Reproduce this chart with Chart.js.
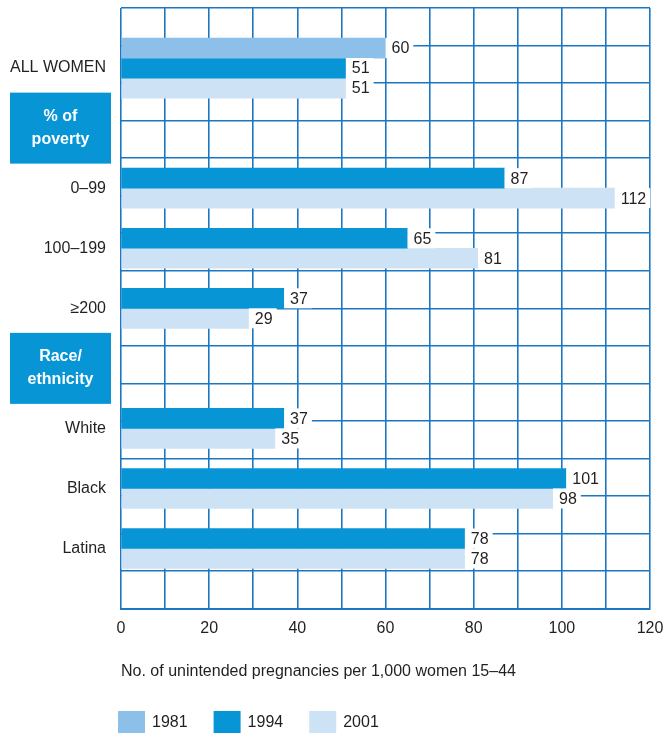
<!DOCTYPE html>
<html>
<head>
<meta charset="utf-8">
<script src="https://cdn.jsdelivr.net/npm/chart.js@4.4.1/dist/chart.umd.min.js"></script>
<style>
  html, body { margin: 0; padding: 0; background: #ffffff; }
  #wrap { width: 665px; height: 735px; position: relative; }
</style>
</head>
<body>
<div id="wrap"><canvas id="c" width="665" height="735"></canvas></div>
<script>
// ---- data ----
const categories = ['', 'ALL WOMEN', '% of poverty', '0–99', '100–199', '≥200', 'Race/ethnicity', 'White', 'Black', 'Latina', ''];
const sectionHeaders = { '% of poverty': ['% of', 'poverty'], 'Race/ethnicity': ['Race/', 'ethnicity'] };
const years = ['1981', '1994', '2001'];
const values1981 = [null, 60, null, null, null, null, null, null, null, null, null];
const values1994 = [null, 51, null, 87, 65, 37, null, 37, 101, 78, null];
const values2001 = [null, 51, null, 112, 81, 29, null, 35, 98, 78, null];
const xTickLabels = [0, 20, 40, 60, 80, 100, 120];
const axisTitle = 'No. of unintended pregnancies per 1,000 women 15–44';

// ---- styles ----
const colors = ['#8DC0E9', '#0795D6', '#CDE2F5'];
const gridColor = '#1C77C3';
const textColor = '#231F20';
const FONT = "'Liberation Sans', Arial, sans-serif";
const FS = 16;

const valueLabels = {
  id: 'valueLabels',
  afterDatasetsDraw(chart) {
    const ctx = chart.ctx;
    ctx.save();
    ctx.font = FS + 'px ' + FONT;
    ctx.textBaseline = 'middle';
    ctx.textAlign = 'left';
    chart.data.datasets.forEach((ds, di) => {
      const meta = chart.getDatasetMeta(di);
      meta.data.forEach((bar, i) => {
        const v = ds.data[i];
        if (v === null || v === undefined) return;
        const t = String(v);
        const w = ctx.measureText(t).width;
        const h = bar.height;
        ctx.fillStyle = '#ffffff';
        ctx.fillRect(bar.x, bar.y - h / 2, w + 10, h);
        ctx.fillStyle = textColor;
        ctx.fillText(t, bar.x + 6, bar.y + 1);
      });
    });
    ctx.restore();
  }
};

const sectionBoxes = {
  id: 'sectionBoxes',
  afterDraw(chart) {
    const ctx = chart.ctx;
    const ys = chart.scales.y;
    ctx.save();
    categories.forEach((c, i) => {
      const lines = sectionHeaders[c];
      if (!lines) return;
      const cy = ys.getPixelForValue(i);
      const bx = 10, bw = 101, bh = 71;
      ctx.fillStyle = colors[1];
      ctx.fillRect(bx, cy - bh / 2, bw, bh);
      ctx.fillStyle = '#ffffff';
      ctx.font = 'bold ' + FS + 'px ' + FONT;
      ctx.textAlign = 'center';
      ctx.textBaseline = 'middle';
      lines.forEach((ln, k) => {
        ctx.fillText(ln, bx + bw / 2, cy + (k - (lines.length - 1) / 2) * 23);
      });
    });
    ctx.restore();
  }
};

const bottomLegend = {
  id: 'bottomLegend',
  afterDraw(chart) {
    const ctx = chart.ctx;
    ctx.save();
    ctx.font = FS + 'px ' + FONT;
    ctx.textBaseline = 'middle';
    ctx.textAlign = 'left';
    let x = chart.chartArea.left - 3;
    const top = 711, bh = 22, bw = 27;
    chart.data.datasets.forEach((ds) => {
      ctx.fillStyle = ds.backgroundColor;
      ctx.fillRect(x, top, bw, bh);
      ctx.fillStyle = textColor;
      const tx = x + bw + 7;
      ctx.fillText(ds.label, tx, top + bh / 2 + 1);
      x = tx + ctx.measureText(ds.label).width + 26;
    });
    ctx.restore();
  }
};

new Chart(document.getElementById('c').getContext('2d'), {
  type: 'bar',
  data: {
    labels: categories,
    datasets: [
      { label: years[0], data: values1981, backgroundColor: colors[0], xAxisID: 'x', yAxisID: 'y' },
      { label: years[1], data: values1994, backgroundColor: colors[1], xAxisID: 'x', yAxisID: 'y' },
      { label: years[2], data: values2001, backgroundColor: colors[2], xAxisID: 'x', yAxisID: 'y' }
    ]
  },
  options: {
    responsive: false,
    animation: false,
    indexAxis: 'y',
    layout: { padding: { left: 8, right: 15, top: 8, bottom: 54 } },
    datasets: { bar: { barThickness: 20, skipNull: true, borderWidth: 0 } },
    plugins: { legend: { display: false }, tooltip: { enabled: false } },
    scales: {
      x: {
        type: 'linear', min: 0, max: 120, position: 'bottom',
        ticks: {
          stepSize: 10, autoSkip: false, maxRotation: 0,
          callback: (v) => xTickLabels.includes(v) ? String(v) : '',
          font: { family: FONT, size: FS }, color: textColor, padding: 10
        },
        grid: { color: gridColor, lineWidth: 1.6, drawTicks: false },
        border: { color: gridColor, width: 2 },
        title: {
          display: true, text: axisTitle, align: 'start',
          font: { family: FONT, size: FS }, color: textColor,
          padding: { top: 14, bottom: 0 }
        },
        afterFit: (s) => { s.paddingLeft = 0; s.paddingRight = 0; }
      },
      y: {
        type: 'category', offset: false, position: 'left',
        grid: { display: false, drawTicks: false },
        border: { display: false },
        ticks: {
          autoSkip: false, padding: 15, color: textColor,
          font: { family: FONT, size: FS },
          callback: (v, i) => { const l = categories[i]; return sectionHeaders[l] ? '' : l; }
        },
        afterFit: (s) => { s.width = 113; s.paddingTop = 0; s.paddingBottom = 0; }
      },
      rows: {
        type: 'linear', min: 0, max: 15, position: 'right',
        ticks: { display: false, stepSize: 1 },
        grid: { color: gridColor, lineWidth: 1.6, drawTicks: false },
        border: { display: false },
        afterFit: (s) => { s.width = 0; s.paddingTop = 0; s.paddingBottom = 0; }
      }
    }
  },
  plugins: [valueLabels, sectionBoxes, bottomLegend]
});
</script>
</body>
</html>
